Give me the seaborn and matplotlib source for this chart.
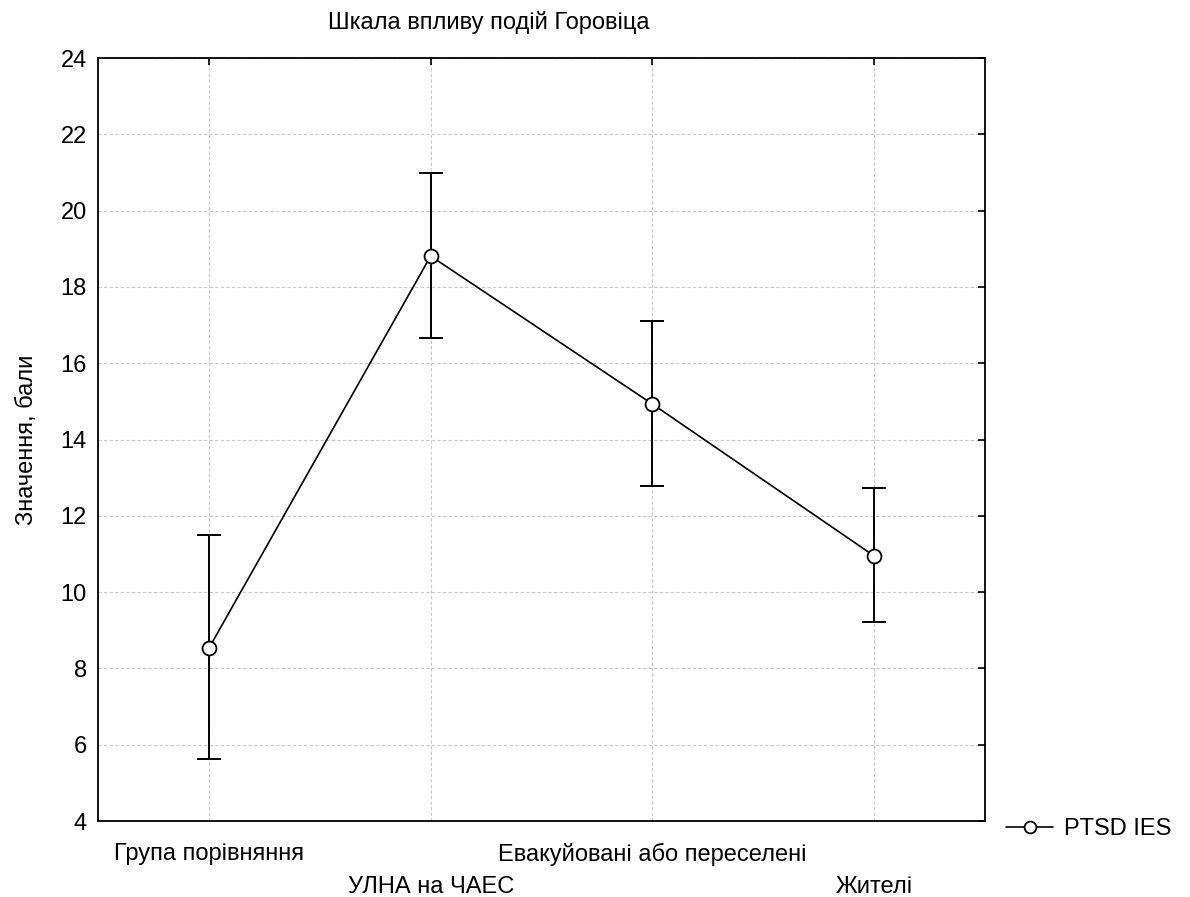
import numpy as np
import pandas as pd
import seaborn as sns
import matplotlib.pyplot as plt

# data
groups = ['Група порівняння', 'УЛНА на ЧАЕС', 'Евакуйовані або переселені', 'Жителі']
means = [8.53, 18.81, 14.93, 10.95]
upper = [11.50, 20.99, 17.11, 12.73]
lower = [5.63, 16.66, 12.78, 9.22]

df = pd.DataFrame({'group': groups, 'mean': means, 'hi': upper, 'lo': lower})
df['pos'] = np.arange(len(df))

sns.set_style('white')
plt.rcParams['font.family'] = ['Liberation Sans', 'DejaVu Sans']
plt.rcParams['text.color'] = 'black'
plt.rcParams['axes.labelcolor'] = 'black'
plt.rcParams['xtick.color'] = 'black'
plt.rcParams['ytick.color'] = 'black'

fs = 17

fig = plt.figure(figsize=(11.9, 8.97), dpi=100)
ax = fig.add_axes([0.0824, 0.0847, 0.7453, 0.8506])

# error bars first, then the line with open markers on top
ax.errorbar(df['pos'], df['mean'],
            yerr=[df['mean'] - df['lo'], df['hi'] - df['mean']],
            fmt='none', ecolor='black', elinewidth=1.4, capsize=8.5, capthick=1.4, zorder=2)
sns.lineplot(data=df, x='pos', y='mean', ax=ax, color='black', linewidth=1.2,
             marker='o', markersize=10, markerfacecolor='white',
             markeredgecolor='black', markeredgewidth=1.3, label='PTSD IES', zorder=3)

ax.set_xlim(-0.5, 3.5)
ax.set_ylim(4, 24)
ax.set_yticks(range(4, 25, 2))
ax.set_xticks(df['pos'])
ax.set_xticklabels([])
ax.tick_params(axis='both', direction='in', length=5, width=1.2, labelsize=fs,
               top=True, right=True, colors='black')
ax.tick_params(axis='y', pad=8)
for i, g in enumerate(groups):
    ax.text(i, -0.029 if i % 2 == 0 else -0.072, g, transform=ax.get_xaxis_transform(),
            ha='center', va='top', fontsize=fs)

ax.grid(True, color='#c8c8c8', linestyle=(0, (3, 2)), linewidth=0.8)
for s in ax.spines.values():
    s.set_color('black')
    s.set_linewidth(1.3)

ax.set_xlabel('')
ax.set_ylabel('Значення, бали', fontsize=fs, labelpad=16)
fig.text(0.411, 0.975, 'Шкала впливу подій Горовіца', ha='center', va='center', fontsize=fs)

ax.legend(loc='center left', bbox_to_anchor=(1.0, -0.011), frameon=False,
          fontsize=fs, handlelength=2.0, handletextpad=0.45, markerscale=0.85)

plt.savefig('out.png', dpi=100)
